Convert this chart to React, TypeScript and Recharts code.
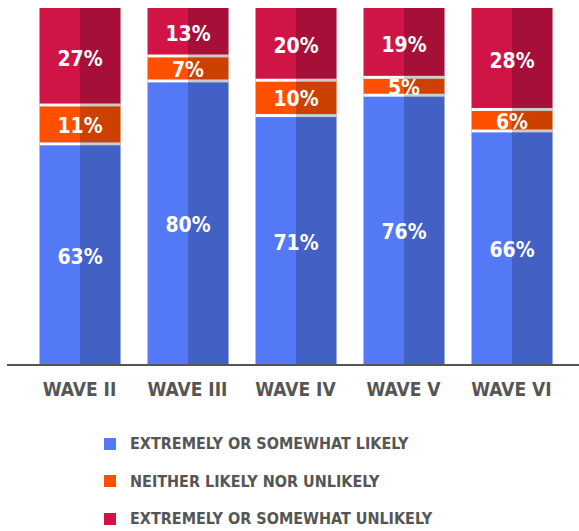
import { Bar, BarChart, LabelList, XAxis, YAxis } from "recharts";

const waves = ["WAVE II", "WAVE III", "WAVE IV", "WAVE V", "WAVE VI"];
const likely = [63, 80, 71, 76, 66];
const neither = [11, 7, 10, 5, 6];
const unlikely = [27, 13, 20, 19, 28];

const series = [
  { key: "likely", name: "EXTREMELY OR SOMEWHAT LIKELY", color: "#5479F7", gap: true },
  { key: "neither", name: "NEITHER LIKELY NOR UNLIKELY", color: "#FF5000", gap: true },
  { key: "unlikely", name: "EXTREMELY OR SOMEWHAT UNLIKELY", color: "#D01446", gap: false },
];

const data = waves.map((w, i) => ({
  wave: w,
  likely: likely[i],
  neither: neither[i],
  unlikely: unlikely[i],
}));

const font = "'DejaVu Sans Condensed', 'Liberation Sans Narrow', sans-serif";

// segment with a white gap at its top and a darker right half
const makeShape = (gap: boolean) => (props: any) => {
  const { x, y, width, height, fill } = props;
  return (
    <g>
      <rect x={x} y={y} width={width} height={height} fill={fill} />
      {gap && <rect x={x} y={y} width={width} height={3} fill="#fff" />}
      <rect x={x + width / 2} y={y} width={width / 2} height={height} fill="#000" fillOpacity={0.2} />
    </g>
  );
};

const renderLabel = (props: any) => {
  const { x, y, width, height, value } = props;
  return (
    <text x={x + width / 2} y={y + height / 2 + 3} textAnchor="middle" dominantBaseline="central"
      fill="#fff" fontFamily={font} fontWeight="bold" fontSize={21}>
      {value}%
    </text>
  );
};

export default function App() {
  return (
    <div style={{ position: "absolute", left: 0, top: 0, width: 579, height: 531 }}>
      <BarChart width={579} height={531} data={data} stackOffset="expand"
        margin={{ top: 8, right: 0, bottom: 136, left: 7 }}>
        <XAxis dataKey="wave" padding={{ left: 18.5, right: 13.5 }} height={30}
          axisLine={{ stroke: "#555", strokeWidth: 2 }} tickLine={false}
          tick={{ fill: "#555", fontFamily: font, fontWeight: "bold", fontSize: 19 }} dy={10} />
        <YAxis hide domain={[0, 1]} />
        {series.map((s) => (
          <Bar key={s.key} dataKey={s.key} name={s.name} stackId="a" fill={s.color} barSize={81}
            shape={makeShape(s.gap)} isAnimationActive={false}>
            <LabelList dataKey={s.key} content={renderLabel} />
          </Bar>
        ))}
      </BarChart>
      <div style={{ position: "absolute", left: 104, top: 425, fontFamily: font, fontWeight: "bold", fontSize: 16, color: "#555" }}>
        {series.map((s) => (
          <div key={s.key} style={{ display: "flex", alignItems: "center", height: 37.5 }}>
            <span style={{ width: 12, height: 12, background: s.color, marginRight: 14, display: "inline-block" }} />
            {s.name}
          </div>
        ))}
      </div>
    </div>
  );
}
